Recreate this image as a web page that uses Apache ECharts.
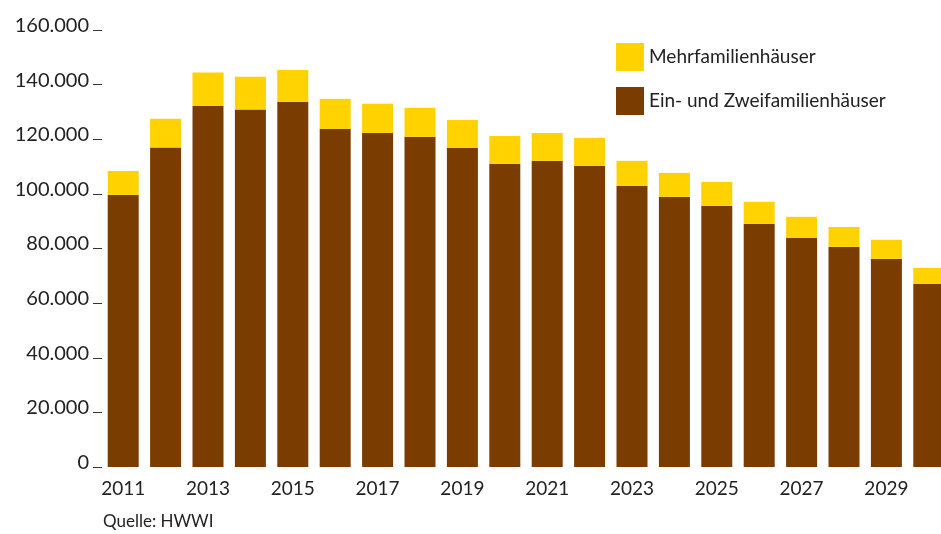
<!DOCTYPE html>
<html>
<head>
<meta charset="utf-8">
<script src="https://cdn.jsdelivr.net/npm/echarts@6/dist/echarts.min.js"></script>
<style>
  html, body { margin: 0; padding: 0; background: #fff; }
  #main { width: 941px; height: 534px; }
</style>
</head>
<body>
<div id="main"></div>
<script>
const years = ['2011', '2012', '2013', '2014', '2015', '2016', '2017', '2018', '2019', '2020',
  '2021', '2022', '2023', '2024', '2025', '2026', '2027', '2028', '2029', '2030']
// Ein- und Zweifamilienhäuser
const einZwei = [99600, 117000, 132200, 130900, 133700, 123800, 122300, 120900, 116800, 111000,
  112100, 110300, 102900, 98900, 95600, 89000, 83900, 80600, 76200, 67000]
// Mehrfamilienhäuser (Aufsatz auf den Stapel)
const mehr = [8800, 10500, 12200, 12000, 11700, 11000, 10700, 10600, 10300, 10200,
  10200, 10200, 9200, 8800, 8800, 8100, 7700, 7300, 7000, 5900]

const font = 'Lato'
const textColor = '#222'

let myChart = echarts.init(document.getElementById('main'))

let option = {
  animation: false,
  textStyle: { fontFamily: font },
  legend: {
    orient: 'vertical',
    left: 616,
    top: 43,
    padding: 0,
    itemWidth: 28,
    itemHeight: 28,
    itemGap: 16,
    icon: 'rect',
    data: ['Mehrfamilienhäuser', 'Ein- und Zweifamilienhäuser'],
    textStyle: { fontSize: 19, color: textColor, fontFamily: font }
  },
  graphic: [{
    type: 'text',
    left: 103,
    top: 513,
    style: { text: 'Quelle: HWWI', fontSize: 17, fill: textColor, fontFamily: font }
  }],
  grid: { left: 102, width: 848, top: 30, height: 437, containLabel: false, outerBoundsMode: 'none' },
  xAxis: {
    type: 'category',
    data: years,
    axisLine: { show: false },
    axisTick: { show: false },
    axisLabel: { interval: 1, fontSize: 19, color: textColor, margin: 12, fontFamily: font }
  },
  yAxis: {
    type: 'value',
    min: 0,
    max: 160000,
    interval: 20000,
    splitLine: { show: false },
    axisLine: { show: false },
    axisTick: { show: true, length: 9, lineStyle: { color: '#333', width: 1 } },
    axisLabel: {
      fontSize: 20,
      color: textColor,
      margin: 13,
      fontFamily: font,
      verticalAlign: 'bottom',
      lineHeight: 9,
      formatter: v => String(v).replace(/\B(?=(\d{3})+(?!\d))/g, '.')
    }
  },
  series: [
    {
      name: 'Ein- und Zweifamilienhäuser',
      type: 'bar',
      stack: 'total',
      barWidth: 31,
      itemStyle: { color: '#7B3C00' },
      data: einZwei
    },
    {
      name: 'Mehrfamilienhäuser',
      type: 'bar',
      stack: 'total',
      barWidth: 31,
      itemStyle: { color: '#FFD200' },
      data: mehr
    }
  ]
}

myChart.setOption(option)
</script>
</body>
</html>
